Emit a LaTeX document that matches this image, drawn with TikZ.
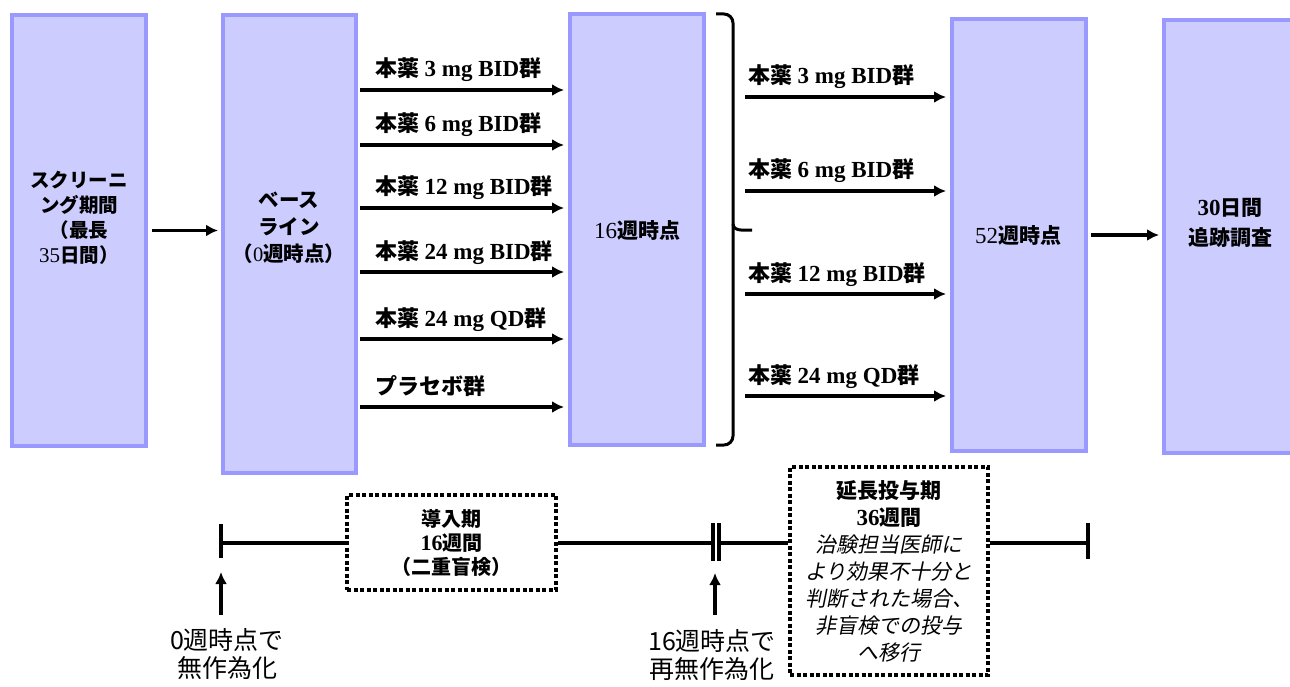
\documentclass[tikz,border=0pt]{standalone}
\usepackage{fontspec}
\setmainfont{Liberation Serif}
\newfontfamily\jp{Noto Sans CJK JP}[AutoFakeSlant=0.2]
\usetikzlibrary{arrows.meta}
\definecolor{boxfill}{HTML}{CCCCFF}
\definecolor{boxline}{HTML}{9999FF}
\newcommand\grp[1]{{\jp 本薬} {\fontsize{23}{24}\selectfont #1}{\jp 群}}
\tikzset{
  phase/.style={draw=boxline, fill=boxfill, line width=4pt, inner sep=0pt},
  arr/.style={-{Latex[length=12pt,width=12pt]}, line width=3.4pt},
  tl/.style={line width=3.4pt},
  dbox/.style={draw, dash pattern=on 4pt off 2.5pt, line width=4pt, fill=white, inner sep=0pt},
  lab/.style={font=\fontsize{22}{24}\selectfont\bfseries, anchor=base west, inner sep=0pt},
  btxt/.style={align=center, inner sep=0pt},
}
\begin{document}
\begin{tikzpicture}[x=1pt,y=-1pt]
\useasboundingbox (0,0) rectangle (1290,687);
\fill[white] (0,0) rectangle (1290,687);
% phase boxes
\node[phase, minimum width=134pt, minimum height=431pt] (b1) at (79,230.5) {};
\node[phase, minimum width=133pt, minimum height=458pt] (b2) at (289.5,244) {};
\node[phase, minimum width=134pt, minimum height=431pt] (b3) at (637,229.5) {};
\node[phase, minimum width=134pt, minimum height=432pt] (b4) at (1019,235) {};
\node[phase, minimum width=134pt, minimum height=433pt] (b5) at (1231,236.5) {};
% box texts
\node[btxt, font=\fontsize{19.5}{25}\selectfont\jp\bfseries] (t1) at (79,218)
  {スクリーニ\\ング期間\\（最長\\{\rmfamily\mdseries\fontsize{21}{25}\selectfont 35}日間）};
\node[btxt, font=\fontsize{20.5}{27}\selectfont\jp\bfseries] (t2) at (289,228)
  {ベース\\ライン\\（{\rmfamily\mdseries 0}週時点）};
\node[btxt, font=\fontsize{21}{27}\selectfont\jp\bfseries] (t3) at (637,230)
  {{\rmfamily\mdseries\fontsize{23}{27}\selectfont 16}週時点};
\node[btxt, font=\fontsize{21}{27}\selectfont\jp\bfseries] (t4) at (1018,235)
  {{\rmfamily\mdseries\fontsize{23}{27}\selectfont 52}週時点};
\node[btxt, font=\fontsize{21}{30}\selectfont\jp\bfseries] (t5) at (1230,223)
  {{\rmfamily\fontsize{23}{30}\selectfont 30}日間\\追跡調査};
% main arrows
\draw[arr, shorten <=4pt, shorten >=3pt] (b1.east) -- (b2.west |- b1.east);
\draw[arr, shorten <=3pt, shorten >=3pt] (b4.east) -- (b5.west |- b4.east);
% left group arrows
\foreach \y/\t [count=\i] in {90/{\grp{3 mg BID}},145/{\grp{6 mg BID}},208/{\grp{12 mg BID}},272/{\grp{24 mg BID}},339/{\grp{24 mg QD}},407/{{\jp プラセボ群}}}{
  \coordinate (ly\i) at (0,\y);
  \draw[arr, shorten <=2pt, shorten >=4pt] (b2.east |- ly\i) -- (b3.west |- ly\i);
  \node[lab] (ll\i) at (375,\y-13) {\t};
}
% brace
\draw[line width=3pt, rounded corners=9pt] (716,14) -- (733,14) -- (733,445) -- (716,445);
\draw[line width=3pt] (733,224) to[out=-90,in=180] (741,230) -- (752,230);
% right group arrows
\foreach \y/\t [count=\i] in {97/{3 mg BID},191/{6 mg BID},294/{12 mg BID},396/{24 mg QD}}{
  \coordinate (rs\i) at (745,\y);
  \draw[arr, shorten >=4pt] (rs\i) -- (b4.west |- rs\i);
  \node[lab] (rl\i) at (748,\y-13) {\grp{\t}};
}
% timeline
\coordinate (t0) at (221,543);
\coordinate (t16) at (716,543);
\coordinate (t52) at (1088,543);
\node[dbox, minimum width=209pt, minimum height=95pt] (db1) at (451.5,542.5) {};
\node[btxt, font=\fontsize{20}{24}\selectfont\jp\bfseries] (db1t) at (db1.center)
  {導入期\\{\rmfamily\fontsize{22}{24}\selectfont 16}週間\\（二重盲検）};
\node[dbox, minimum width=198pt, minimum height=208pt] (db2) at (889,571) {};
\node[btxt, font=\fontsize{21}{27}\selectfont\jp] (db2t) at (db2.center)
  {{\bfseries 延長投与期}\\{\bfseries{\rmfamily\fontsize{23}{27}\selectfont 36}週間}\\{\itshape 治験担当医師に}\\{\itshape より効果不十分と}\\{\itshape 判断された場合、}\\{\itshape 非盲検での投与}\\{\itshape へ移行}};
\draw[tl] (t0) -- (db1.west |- t0);
\draw[tl] (db1.east |- t0) -- ([xshift=-2pt]t16);
\draw[tl] ([xshift=3pt]t16) -- (db2.west |- t16);
\draw[tl] (db2.east |- t52) -- (t52);
\draw[tl] ([yshift=-15pt]t0) -- ([yshift=19pt]t0);
\draw[tl] ([xshift=-3pt,yshift=-18pt]t16) -- ([xshift=-3pt,yshift=20pt]t16);
\draw[tl] ([xshift=3pt,yshift=-18pt]t16) -- ([xshift=3pt,yshift=20pt]t16);
\draw[tl] ([yshift=-16pt]t52) -- ([yshift=20pt]t52);
% up arrows
\coordinate (u0) at (221,615);
\coordinate (u16) at (715,615);
\draw[arr, shorten >=29pt] (u0) -- (t0);
\draw[arr, shorten >=30pt] (u16) -- (u16 |- t16);
\node[btxt, font=\fontsize{25}{28}\selectfont\jp] (r0) at (227,654) {0週時点で\\無作為化};
\node[btxt, font=\fontsize{25}{28}\selectfont\jp] (r16) at (712,655) {16週時点で\\再無作為化};
\end{tikzpicture}
\end{document}
